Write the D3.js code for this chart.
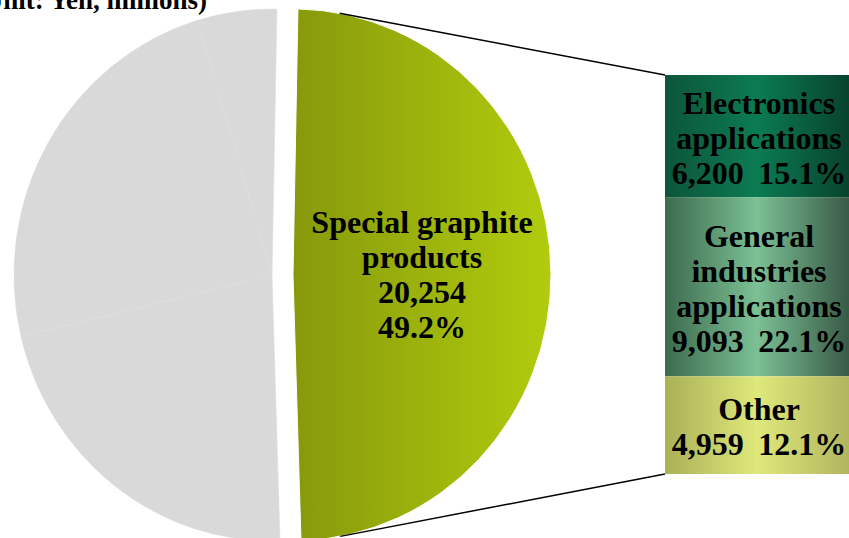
<!DOCTYPE html>
<html><head><meta charset="utf-8">
<script src="https://cdn.jsdelivr.net/npm/d3@7"></script>
<style>
body{margin:0;background:#fff;}
svg{display:block;font-family:"Liberation Serif","Times New Roman",serif;font-weight:bold;}
</style>
</head><body><svg id="c" width="849" height="538"></svg>
<script>
// ---- data ----
const title = "(Unit: Yen, millions)";
const pieCategories = ["Special graphite products", "Segment A", "Segment B", "Segment C"];
const pieValues = [20254, 8965, 9906, 2042];
const pieLabelLines = ["Special graphite", "products", "20,254", "49.2%"];
const barCategories = ["Electronics applications", "General industries applications", "Other"];
const barNameLines = [["Electronics", "applications"], ["General", "industries", "applications"], ["Other"]];
const barValues = [6200, 9093, 4959];
const barShares = ["15.1%", "22.1%", "12.1%"];

// ---- layout ----
const W = 849, H = 538;
const cx = 272, cy = 275, rx = 258, ry = 266, explode = 21;
const startDeg = 1.1;
const barX0 = 665, barX1 = 849, barY0 = 75, barY1 = 474;
const fontSize = 32, lineGap = 35;

const svg = d3.select("#c");
const defs = svg.append("defs");

function hGrad(id, stops) {
  const g = defs.append("linearGradient").attr("id", id)
    .attr("x1", 0).attr("y1", 0).attr("x2", 1).attr("y2", 0);
  stops.forEach(([o, c]) => g.append("stop").attr("offset", o).attr("stop-color", c));
}
hGrad("gGreen", [[0, "#87990b"], [1, "#b1cc0d"]]);
hGrad("gElec", [[0, "#0d553a"], [0.5, "#0b7b52"], [1, "#08432d"]]);
hGrad("gGen", [[0, "#3c6b4e"], [0.5, "#7cc095"], [1, "#385a46"]]);
hGrad("gOth", [[0, "#a9b156"], [0.5, "#dfe87a"], [1, "#b1b55e"]]);

// ---- pie ----
const a0 = startDeg * Math.PI / 180;
const pie = d3.pie().sort(null).startAngle(a0).endAngle(a0 + 2 * Math.PI);
const arcs = pie(pieValues);
const arc = d3.arc().innerRadius(0).outerRadius(rx);
const sy = ry / rx;

const pieG = svg.append("g");
arcs.forEach((d, i) => {
  const mid = (d.startAngle + d.endAngle) / 2;
  const off = i === 0 ? explode : 0;
  const ox = cx + off * Math.sin(mid), oy = cy - off * Math.cos(mid);
  d.ox = ox; d.oy = oy;
  pieG.append("path")
    .attr("transform", `translate(${ox},${oy}) scale(1,${sy})`)
    .attr("d", arc(d))
    .attr("fill", i === 0 ? "url(#gGreen)" : "#d9d9d9")
    .attr("stroke", i === 0 ? "#ffffff" : "#dedede")
    .attr("stroke-width", i === 0 ? 1 : 0.6)
    .attr("vector-effect", "non-scaling-stroke");
});

// label of the split slice
const sp = arcs[0];
const cen = arc.centroid(sp);
const lx = sp.ox + cen[0], ly = sp.oy + cen[1] * sy;
const pl = svg.append("text").attr("text-anchor", "middle")
  .attr("font-size", fontSize).attr("fill", "#000");
pieLabelLines.forEach((t, k) => {
  pl.append("tspan").attr("x", lx)
    .attr("y", ly + (k - (pieLabelLines.length - 1) / 2) * lineGap + fontSize * 0.35)
    .text(t);
});

// ---- bar ----
const total = d3.sum(barValues);
const yS = d3.scaleLinear().domain([0, total]).range([barY0, barY1]);
const cum = d3.cumsum(barValues);
const fills = ["url(#gElec)", "url(#gGen)", "url(#gOth)"];
const fmt = d3.format(",");
barValues.forEach((v, i) => {
  const s = i === 0 ? 0 : cum[i - 1];
  const y0 = yS(s), y1 = yS(s + v);
  svg.append("rect").attr("x", barX0).attr("y", y0)
    .attr("width", barX1 - barX0).attr("height", y1 - y0)
    .attr("fill", fills[i]);
  const lines = barNameLines[i].concat([fmt(v) + "\u00a0\u2009" + barShares[i]]);
  const mx = (barX0 + barX1) / 2 + 2, my = (y0 + y1) / 2;
  const t = svg.append("text").attr("text-anchor", "middle")
    .attr("font-size", fontSize).attr("fill", "#000").style("white-space", "pre");
  lines.forEach((ln, k) => {
    t.append("tspan").attr("x", mx)
      .attr("y", my + (k - (lines.length - 1) / 2) * lineGap + fontSize * 0.4)
      .text(ln);
  });
});

// ---- connector lines (tangent to the split slice) ----
function tangent(px, py, upper) {
  const gx = sp.ox, gy = sp.oy;
  const u = (px - gx) / rx, v = (py - gy) / ry;
  const d = Math.hypot(u, v);
  const phi = Math.atan2(v, u);
  const al = Math.acos(1 / d);
  const th = upper ? phi - al : phi + al;
  return [gx + rx * Math.cos(th), gy + ry * Math.sin(th)];
}
const tTop = tangent(barX0, yS(0), true);
const tBot = tangent(barX0, yS(total), false);
[[tTop, [barX0, yS(0)]], [tBot, [barX0, yS(total)]]].forEach(([p, q]) => {
  svg.append("line").attr("x1", p[0]).attr("y1", p[1]).attr("x2", q[0]).attr("y2", q[1])
    .attr("stroke", "#000").attr("stroke-width", 1.5);
});

// ---- title ----
svg.append("text").attr("x", 207).attr("y", 9).attr("text-anchor", "end")
  .attr("font-size", 27).attr("fill", "#000").text(title);
</script>
</body></html>
